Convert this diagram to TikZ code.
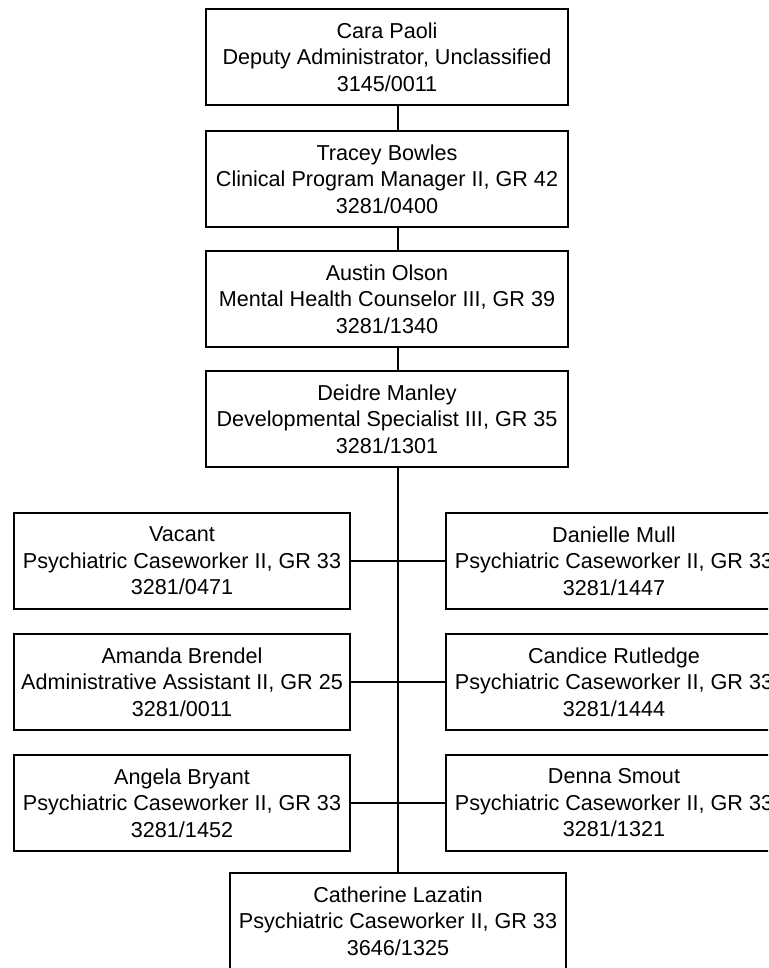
\documentclass[tikz,border=0pt]{standalone}
\usepackage{fontspec}
\setmainfont{Liberation Sans}
\begin{document}
\begin{tikzpicture}[x=1pt,y=1pt,
  box/.style={draw=black,line width=1.8pt,fill=white,align=center,inner sep=0pt,
    font=\fontsize{21.6}{26.5}\selectfont},
  topbox/.style={box,minimum width=362pt,minimum height=96pt},
  sidebox/.style={box,minimum width=336pt,minimum height=96pt},
  link/.style={line width=1.8pt,draw=black}]
\useasboundingbox (0,0) rectangle (768,-968);
\clip (0,0) rectangle (768,-968);
\coordinate (trunk) at (398,0);
\node[topbox] (b1) at (387,-57) {Cara Paoli\\Deputy Administrator, Unclassified\\3145/0011};
\node[topbox] (b2) at (387,-179) {Tracey Bowles\\Clinical Program Manager II, GR 42\\3281/0400};
\node[topbox] (b3) at (387,-299) {Austin Olson\\Mental Health Counselor III, GR 39\\3281/1340};
\node[topbox] (b4) at (387,-419) {Deidre Manley\\Developmental Specialist III, GR 35\\3281/1301};
\node[sidebox] (l1) at (182,-561) {Vacant\\Psychiatric Caseworker II, GR 33\\3281/0471};
\node[sidebox] (r1) at (614,-561) {Danielle Mull\\Psychiatric Caseworker II, GR 33\\3281/1447};
\node[sidebox] (l2) at (182,-682) {Amanda Brendel\\Administrative Assistant II, GR 25\\3281/0011};
\node[sidebox] (r2) at (614,-682) {Candice Rutledge\\Psychiatric Caseworker II, GR 33\\3281/1444};
\node[sidebox] (l3) at (182,-803) {Angela Bryant\\Psychiatric Caseworker II, GR 33\\3281/1452};
\node[sidebox] (r3) at (614,-803) {Denna Smout\\Psychiatric Caseworker II, GR 33\\3281/1321};
\node[sidebox] (b5) at (398,-921) {Catherine Lazatin\\Psychiatric Caseworker II, GR 33\\3646/1325};
\draw[link] (b1.south -| trunk) -- (b2.north -| trunk);
\draw[link] (b2.south -| trunk) -- (b3.north -| trunk);
\draw[link] (b3.south -| trunk) -- (b4.north -| trunk);
\draw[link] (b4.south -| trunk) -- (b5.north);
\draw[link] (l1.east) -- (r1.west);
\draw[link] (l2.east) -- (r2.west);
\draw[link] (l3.east) -- (r3.west);
\end{tikzpicture}
\end{document}
